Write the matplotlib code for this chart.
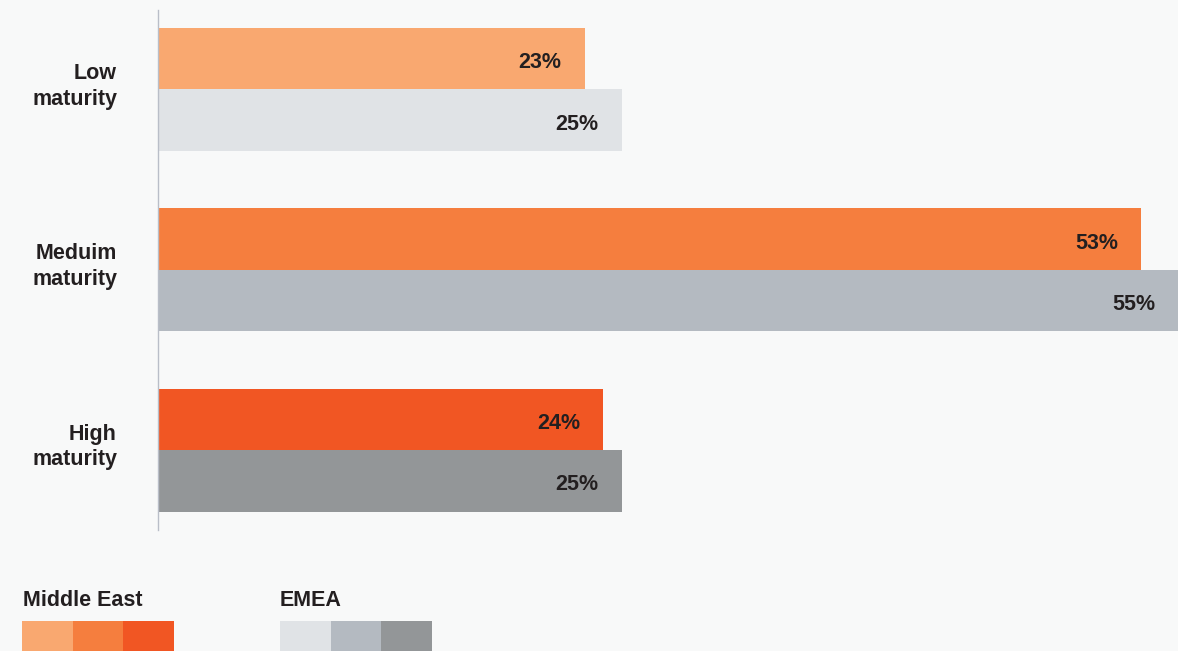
import numpy as np
import matplotlib.pyplot as plt
from matplotlib.patches import Rectangle

plt.rcParams['font.family'] = ['Liberation Sans', 'DejaVu Sans']

# Maturity levels and shares (%) per region
categories = ['Low\nmaturity', 'Meduim\nmaturity', 'High\nmaturity']
middle_east = [23, 53, 24]
emea = [25, 55, 25]

me_colors = ['#F9A870', '#F57E3E', '#F15623']
emea_colors = ['#E0E3E6', '#B4BAC1', '#939698']

BG = '#F8F9F9'
TXT = '#231F20'
FS = 15.5

fig = plt.figure(figsize=(11.78, 6.51), dpi=100, facecolor=BG)
ax = fig.add_axes([158 / 1178, 121 / 651, 1020 / 1178, 520 / 651])
ax.set_facecolor(BG)

y = np.arange(len(categories))
h = 61.5 / 180.5

ax.barh(y - h / 2, middle_east, height=h, color=me_colors, linewidth=0)
ax.barh(y + h / 2, emea, height=h, color=emea_colors, linewidth=0)

# value labels sit inside the bar end
for i in range(len(categories)):
    for val, yy in ((middle_east[i], y[i] - h / 2), (emea[i], y[i] + h / 2)):
        ax.annotate(f'{val}%', xy=(val, yy), xytext=(-23, -4),
                    textcoords='offset pixels', ha='right', va='center',
                    fontsize=FS, fontweight='bold', color=TXT)

# category names to the left of the axis line
for i, cat in enumerate(categories):
    ax.annotate(cat, xy=(0, y[i]), xytext=(-41, 3),
                textcoords='offset pixels', ha='right', va='center',
                fontsize=FS, fontweight='bold', color=TXT, linespacing=1.3,
                annotation_clip=False)

ax.set_xlim(0, 55)
ax.set_ylim(2 + 80 / 180.5, -79.5 / 180.5)

for s in ['top', 'right', 'bottom']:
    ax.spines[s].set_visible(False)
ax.spines['left'].set_color('#B9BEC8')
ax.spines['left'].set_linewidth(1)
ax.set_xticks([])
ax.set_yticks([])

# region key below the chart
W, H = 1178, 651
fig.text(23 / W, 1 - 600 / H, 'Middle East', fontsize=FS, fontweight='bold',
         color=TXT, va='center', ha='left')
fig.text(280 / W, 1 - 600 / H, 'EMEA', fontsize=FS, fontweight='bold',
         color=TXT, va='center', ha='left')
for j, c in enumerate(me_colors):
    fig.patches.append(Rectangle(((22 + j * 50.7) / W, 0), 50.7 / W, 30 / H,
                                 transform=fig.transFigure, color=c, lw=0))
for j, c in enumerate(emea_colors):
    fig.patches.append(Rectangle(((280 + j * 50.7) / W, 0), 50.7 / W, 30 / H,
                                 transform=fig.transFigure, color=c, lw=0))

fig.savefig('out.png', dpi=100, facecolor=BG)
